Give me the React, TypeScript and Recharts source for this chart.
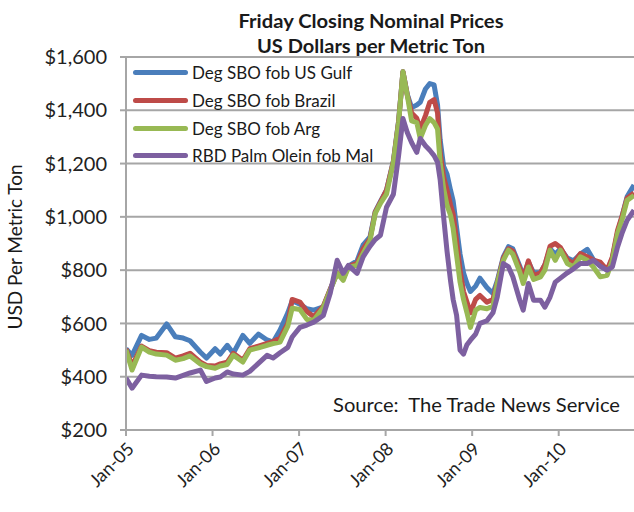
import { LineChart, Line, XAxis, YAxis, CartesianGrid } from 'recharts';

// years since Jan-05 (weekly closes sampled by eye)
const weeks = [
  0.0, 0.07, 0.18, 0.27, 0.35, 0.47, 0.57, 0.66, 0.74, 0.86, 0.93, 1.03, 1.09, 1.17, 1.24, 1.35, 1.43, 1.53,
  1.63, 1.7, 1.78, 1.87, 1.92, 2.01, 2.09, 2.17, 2.28, 2.36, 2.44, 2.51, 2.57, 2.67, 2.74, 2.82, 2.88, 2.94,
  3.01, 3.09, 3.15, 3.2, 3.25, 3.3, 3.36, 3.4, 3.46, 3.51, 3.56, 3.6, 3.63, 3.67, 3.71, 3.75, 3.78, 3.82,
  3.86, 3.9, 3.94, 3.98, 4.04, 4.09, 4.17, 4.24, 4.29, 4.36, 4.42, 4.47, 4.55, 4.59, 4.65, 4.71, 4.79, 4.84,
  4.9, 4.96, 5.02, 5.1, 5.17, 5.25, 5.33, 5.4, 5.48, 5.56, 5.62, 5.68, 5.73, 5.79, 5.87,
];

const usGulf = [
  505, 480, 555, 540, 545, 598, 550, 545, 535, 492, 470, 505, 485, 518, 488, 555, 525, 560,
  538, 530, 575, 640, 685, 672, 655, 650, 662, 728, 790, 770, 815, 835, 895, 925, 1020, 1058,
  1100, 1210, 1360, 1545, 1460, 1410, 1420, 1430, 1480, 1500, 1495, 1420, 1290, 1190, 1160, 1100, 1060, 960,
  860, 790, 750, 720, 740, 770, 735, 712, 760, 850, 888, 880, 815, 775, 830, 790, 790, 820,
  880, 860, 880, 845, 835, 860, 878, 840, 815, 800, 845, 940, 1000, 1075, 1120,
];

const brazil = [
  505, 440, 515, 498, 492, 490, 470, 478, 488, 455, 442, 440, 448, 455, 488, 462, 505, 515,
  525, 532, 545, 600, 690, 680, 645, 625, 665, 728, 790, 768, 815, 825, 880, 918, 1018, 1055,
  1100, 1208, 1358, 1545, 1458, 1390, 1370, 1330, 1380, 1430, 1440, 1390, 1240, 1150, 1100, 1045, 1010, 910,
  800, 720, 680, 640, 690, 705, 680, 690, 752, 845, 880, 872, 808, 768, 835, 780, 790, 820,
  890, 900, 885, 840, 825, 862, 850, 838, 830, 800, 850, 950, 1000, 1070, 1090,
];

const arg = [
  500, 425, 511, 492, 485, 481, 462, 468, 478, 448, 438, 432, 440, 446, 481, 455, 500, 508,
  518, 524, 530, 590, 657, 652, 615, 612, 660, 725, 788, 762, 811, 818, 863, 912, 1013, 1051,
  1085, 1205, 1354, 1545, 1456, 1360, 1354, 1294, 1343, 1369, 1354, 1330, 1205, 1107, 1043, 1006, 957, 856,
  755, 690, 640, 585, 650, 660, 655, 665, 750, 837, 875, 860, 793, 750, 812, 765, 775, 800,
  875, 837, 875, 825, 812, 850, 837, 812, 775, 781, 837, 937, 987, 1062, 1080,
];

const palmOlein = [
  395, 357, 406, 402, 400, 399, 395, 405, 414, 425, 382, 395, 399, 418, 410, 406, 420, 450,
  480, 470, 490, 510, 549, 585, 594, 605, 630, 713, 837, 788, 818, 788, 850, 890, 915, 931,
  1036, 1085, 1230, 1369, 1317, 1279, 1242, 1294, 1267, 1250, 1230, 1205, 1140, 1000, 870, 760, 690, 631,
  500, 485, 520, 537, 560, 600, 610, 640, 699, 825, 812, 775, 687, 650, 750, 687, 687, 661,
  699, 755, 770, 790, 805, 825, 825, 837, 815, 800, 812, 887, 937, 987, 1025,
];

const yearTicks = [0, 1, 2, 3, 4, 5];
const yearLabels = ['Jan-05', 'Jan-06', 'Jan-07', 'Jan-08', 'Jan-09', 'Jan-10'];
const priceTicks = [200, 400, 600, 800, 1000, 1200, 1400, 1600];

const series = [
  { key: 'gulf', name: 'Deg SBO fob US Gulf', color: '#4A7EBB' },
  { key: 'brazil', name: 'Deg SBO fob Brazil', color: '#BE4B48' },
  { key: 'arg', name: 'Deg SBO fob Arg', color: '#98B954' },
  { key: 'palm', name: 'RBD Palm Olein fob Mal', color: '#7D60A0' },
];

const data = weeks.map((t, i) => ({
  t,
  gulf: usGulf[i],
  brazil: brazil[i],
  arg: arg[i],
  palm: palmOlein[i],
}));

const font = 'Lato, "Open Sans", sans-serif';

export default function App() {
  return (
    <div style={{ position: 'absolute', left: 0, top: 0, width: 634, height: 512, background: '#fff' }}>
      <LineChart width={634} height={512} data={data} margin={{ top: 57, right: 0, bottom: 0, left: 0 }}>
        <CartesianGrid horizontal vertical={false} stroke="#a6a6a6" strokeWidth={2} />
        <XAxis
          dataKey="t"
          type="number"
          domain={[0, 5.87]}
          ticks={yearTicks}
          tickFormatter={(v: number) => yearLabels[v]}
          height={82}
          angle={-45}
          textAnchor="end"
          tickSize={6}
          tickMargin={5}
          stroke="#a6a6a6"
          strokeWidth={2}
          tick={{ fontFamily: font, fontSize: 18, fill: '#222' }}
          allowDataOverflow
        />
        <YAxis
          type="number"
          domain={[200, 1600]}
          ticks={priceTicks}
          width={126}
          tickSize={6}
          tickMargin={13}
          stroke="#a6a6a6"
          strokeWidth={2}
          tickFormatter={(v: number) => '$' + v.toLocaleString('en-US')}
          tick={{ fontFamily: font, fontSize: 20, fill: '#222' }}
        />
        {series.map((s) => (
          <Line
            key={s.key}
            dataKey={s.key}
            name={s.name}
            stroke={s.color}
            strokeWidth={5}
            dot={false}
            type="linear"
            strokeLinejoin="round"
            isAnimationActive={false}
          />
        ))}
      </LineChart>
      {/* legend sits inside the plot, top-left */}
      <div style={{ position: 'absolute', left: 133, top: 59, fontFamily: font, fontSize: 17, color: '#1a1a1a' }}>
        {series.map((s) => (
          <div key={s.key} style={{ display: 'flex', alignItems: 'center', height: 27.7, whiteSpace: 'nowrap' }}>
            <div style={{ width: 55, height: 5, borderRadius: 3, background: s.color, marginRight: 4 }} />
            <span>{s.name}</span>
          </div>
        ))}
      </div>
      <svg width={634} height={512} style={{ position: 'absolute', left: 0, top: 0, pointerEvents: 'none' }}>
        <g fontFamily={font} fill="#1a1a1a">
          <text x={371} y={28} textAnchor="middle" fontSize={19} fontWeight={700} textLength={265} lengthAdjust="spacingAndGlyphs">
            Friday Closing Nominal Prices
          </text>
          <text x={371} y={53} textAnchor="middle" fontSize={19} fontWeight={700} textLength={228} lengthAdjust="spacingAndGlyphs">
            US Dollars per Metric Ton
          </text>
          <text x={333} y={412} fontSize={19} textLength={287} lengthAdjust="spacingAndGlyphs">
            {'Source:\u00a0 The Trade News Service'}
          </text>
          <text x={22} y={247} fontSize={19} textAnchor="middle" transform="rotate(-90 22 247)">
            USD Per Metric Ton
          </text>
        </g>
      </svg>
    </div>
  );
}
